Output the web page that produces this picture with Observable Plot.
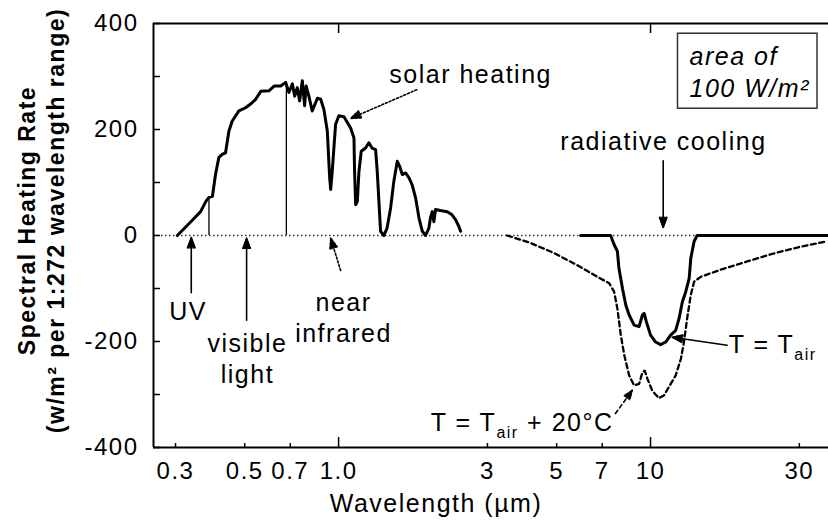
<!DOCTYPE html>
<html><head><meta charset="utf-8">
<script src="https://cdn.jsdelivr.net/npm/d3@7"></script>
<script src="https://cdn.jsdelivr.net/npm/@observablehq/plot@0.6"></script>
<style>
body{margin:0;background:#fff;}
#chart{width:828px;height:520px;}
</style></head><body><div id="chart"></div>
<script>
// ---- data ----
const solarWl = [0.304,0.336,0.361,0.375,0.384,0.394,0.403,0.413,0.423,0.434,0.445,0.456,0.479,0.503,0.522,0.542,0.563,0.598,0.621,0.652,0.676,0.693,0.711,0.723,0.737,0.750,0.765,0.778,0.787,0.803,0.823,0.855,0.876,0.897,0.920,0.936,0.943,0.954,0.978,1.002,1.04,1.093,1.12,1.125,1.134,1.148,1.162,1.182,1.22,1.25,1.28,1.314,1.33,1.35,1.363,1.397,1.43,1.468,1.503,1.542,1.568,1.6,1.64,1.68,1.72,1.765,1.81,1.855,1.9,1.947,1.97,1.996,2.02,2.045,2.12,2.23,2.31,2.37,2.43,2.46];
const solarRate = [0,26,45,64,72,74,115,147,153,156,197,216,235,241,248,257,272,273,282,282,289,270,286,263,279,254,292,245,282,263,235,259,257,238,197,109,87,121,210,226,224,203,184,121,58,64,121,159,165,175,165,162,121,52,8,0,14,52,102,140,131,115,118,109,96,71,33,8,0,14,33,45,26,49,47,45,39,30,17,8];

const boundaryWl = [0.384, 0.68];
const boundaryTop = [72, 289];

const coolAirWl = [5.97,7.45,7.64,7.83,7.92,8.13,8.33,8.54,8.86,9.19,9.42,9.54,9.7,10.0,10.38,10.77,11.18,11.6,12.04,12.34,12.65,12.97,13.3,13.46,13.8,14.1,37.2];
const coolAirRate = [0,0,-17,-30,-62,-100,-131,-150,-169,-172,-150,-147,-163,-188,-201,-206,-201,-188,-179,-157,-125,-106,-81,-43,-11,0,0];

const coolWarmWl = [3.47,4.12,4.9,5.82,6.75,7.37,7.64,7.83,8.03,8.24,8.54,8.86,9.19,9.42,9.58,9.77,10.13,10.63,11.03,11.45,12.04,12.51,12.8,13.1,13.46,13.8,14.48,16.7,20.4,24.8,30.3,36.8];
const coolWarmRate = [0,-14,-33,-56,-78,-90,-106,-138,-188,-226,-264,-283,-280,-258,-255,-270,-293,-307,-302,-286,-264,-233,-201,-157,-112,-87,-78,-65,-49,-34,-21,-11];

const xDomain = [0.255, 37.2];
const yDomain = [-400, 400];
const xTickVals = [0.3, 0.5, 0.7, 1, 3, 5, 7, 10, 30];
const xTickLabels = ["0.3", "0.5", "0.7", "1.0", "3", "5", "7", "10", "30"];
const xMinorTicks = [0.3, 0.5, 0.7, 3, 5, 7, 30];
const xMajorTicks = [1, 10];
const yTickVals = [-400, -300, -200, -100, 0, 100, 200, 300, 400];
const yLabelVals = [-400, -200, 0, 200, 400];

// annotations
const noteText = ["solar heating", "radiative cooling", "UV", "visible\nlight", "near\ninfrared"];
const noteWl = [2.65, 11.0, 0.329, 0.51, 1.037];
const noteRate = [307, 179, -141, -231, -153];

const airNoteText = ["T = T_air"];
const airNoteWl = [17.8];
const airNoteRate = [-206];
const warmNoteText = ["T = T_air + 20°C"];
const warmNoteWl = [7.61];
const warmNoteRate = [-353];

const arrowWl1 = [1.78, 10.98, 0.337, 0.507, 1.015, 17.6, 7.72];
const arrowRate1 = [275, 141, -108, -160, -66, -207, -336];
const arrowWl2 = [1.093, 10.98, 0.337, 0.507, 0.943, 11.74, 8.74];
const arrowRate2 = [221, 15, -4, -5, -5, -192, -292];
const arrowDash = ["2,2", null, null, null, "2,2", null, "4,3"];

const yTitle = ["Spectral Heating Rate", "(w/m² per 1:272 wavelength range)"];
const xTitle = "Wavelength (µm)";
const boxText = "area of\n100 W/m²";

// ---- build ----
const W = 828, H = 520, mL = 153, mR = 0, mT = 23, mB = 73;
const plotW = W - mL - mR, plotH = H - mT - mB;

const solar = solarWl.map((w, i) => ({w, r: solarRate[i]}));
const bounds = boundaryWl.map((w, i) => ({w, top: boundaryTop[i], base: 0}));
const coolAir = coolAirWl.map((w, i) => ({w, r: coolAirRate[i]}));
const coolWarm = coolWarmWl.map((w, i) => ({w, r: coolWarmRate[i]}));
const notes = noteText.map((t, i) => ({t, w: noteWl[i], r: noteRate[i]}));
const airNotes = airNoteText.map((t, i) => ({t, w: airNoteWl[i], r: airNoteRate[i]}));
const warmNotes = warmNoteText.map((t, i) => ({t, w: warmNoteWl[i], r: warmNoteRate[i]}));
const arrows = arrowWl1.map((w, i) => ({x1: w, y1: arrowRate1[i], x2: arrowWl2[i], y2: arrowRate2[i], dash: arrowDash[i]}));
const xLabels = xTickVals.map((v, i) => ({v, t: xTickLabels[i]}));

const arrowMarks = arrows.map(a => Plot.arrow([a], {
  x1: "x1", y1: "y1", x2: "x2", y2: "y2",
  stroke: "black", strokeWidth: 1.6, headLength: 10, headAngle: 40,
  strokeDasharray: a.dash || undefined, ariaDescription: "annot-arrow"
}));

const chart = Plot.plot({
  width: W, height: H,
  marginLeft: mL, marginRight: mR, marginTop: mT, marginBottom: mB,
  x: {type: "log", domain: xDomain, axis: null},
  y: {domain: yDomain, axis: null},
  style: "font-family: 'Liberation Sans', Arial, sans-serif; font-size: 24px; letter-spacing: 1.5px; color: black; background: white; overflow: visible;",
  marks: [
    Plot.ruleY([0], {stroke: "#333", strokeWidth: 1.3, strokeDasharray: "1.5,2.5"}),
    Plot.ruleX(bounds, {x: "w", y1: "base", y2: "top", stroke: "black", strokeWidth: 1.3}),
    Plot.line(solar, {x: "w", y: "r", stroke: "black", strokeWidth: 3, strokeLinejoin: "round"}),
    Plot.line(coolAir, {x: "w", y: "r", stroke: "black", strokeWidth: 3, strokeLinejoin: "round"}),
    Plot.line(coolWarm, {x: "w", y: "r", stroke: "black", strokeWidth: 2.3, strokeDasharray: "5,3.5"}),
    // frame
    Plot.ruleY(yDomain, {stroke: "black", strokeWidth: 2}),
    Plot.ruleX([xDomain[0]], {stroke: "black", strokeWidth: 2}),
    // inward ticks
    Plot.tickY(yTickVals, {y: d => d, insetRight: plotW - 7, stroke: "black", strokeWidth: 1.5}),
    Plot.tickX(xMinorTicks, {x: d => d, insetTop: plotH - 4, stroke: "black", strokeWidth: 1.5}),
    Plot.tickX(xMajorTicks, {x: d => d, insetTop: plotH - 10, stroke: "black", strokeWidth: 1.5}),
    Plot.tickX(xMajorTicks, {x: d => d, insetBottom: plotH - 10, stroke: "black", strokeWidth: 1.5}),
    // tick labels
    Plot.text(xLabels, {x: "v", text: "t", frameAnchor: "bottom", lineAnchor: "top", textAnchor: "middle",
      dy: 14, fontSize: 24, fill: "black"}),
    Plot.text(yLabelVals, {y: d => d, text: d => String(d), frameAnchor: "left", textAnchor: "end",
      lineAnchor: "middle", dx: -15, fontSize: 24, fill: "black"}),
    // axis titles
    Plot.text([yTitle[0]], {text: d => d, frameAnchor: "left", textAnchor: "middle", lineAnchor: "middle",
      rotate: -90, dx: -126, dy: -15, fontWeight: "bold", fontSize: 23, fill: "black"}),
    Plot.text([yTitle[1]], {text: d => d, frameAnchor: "left", textAnchor: "middle", lineAnchor: "middle",
      rotate: -90, dx: -97, dy: -15, fontWeight: "bold", fontSize: 23, fill: "black"}),
    Plot.text([xTitle], {text: d => d, frameAnchor: "bottom", textAnchor: "middle", lineAnchor: "middle",
      dx: -55, dy: 56, fontSize: 25, fill: "black"}),
    // annotations
    Plot.text(notes, {x: "w", y: "r", text: "t", fontSize: 25, lineHeight: 1.22, fill: "black"}),
    Plot.text(airNotes, {x: "w", y: "r", text: "t", textAnchor: "start", fontSize: 25, fill: "black"}),
    Plot.text(warmNotes, {x: "w", y: "r", text: "t", textAnchor: "end", fontSize: 25, fill: "black"}),
    ...arrowMarks,
    Plot.text([boxText], {text: d => d, frameAnchor: "top-right", dx: -139, dy: 19, textAnchor: "start",
      lineAnchor: "top", lineHeight: 1.28, fontSize: 25, fontStyle: "italic", fill: "black",
      ariaDescription: "areabox"})
  ]
});

document.getElementById("chart").appendChild(chart);

// ---- post-processing: subscripts, filled arrowheads, box ----
const NS = "http://www.w3.org/2000/svg";
chart.querySelectorAll("text").forEach(t => {
  if (t.children.length || !t.textContent.includes("_air")) return;
  const [a, b] = t.textContent.split("_air");
  t.textContent = "";
  const s1 = document.createElementNS(NS, "tspan"); s1.textContent = a; t.appendChild(s1);
  const s2 = document.createElementNS(NS, "tspan"); s2.textContent = "air";
  s2.setAttribute("font-size", "16"); s2.setAttribute("dy", "7"); t.appendChild(s2);
  if (b) {
    const s3 = document.createElementNS(NS, "tspan"); s3.textContent = b;
    s3.setAttribute("dy", "-7"); t.appendChild(s3);
  }
});

chart.querySelectorAll('g[aria-description="annot-arrow"] path').forEach(p => {
  const nums = (p.getAttribute("d").match(/-?\d*\.?\d+(?:e-?\d+)?/g) || []).map(Number);
  if (nums.length < 6) return;
  const n = nums.slice(-6);
  const poly = document.createElementNS(NS, "polygon");
  poly.setAttribute("points", `${n[0]},${n[1]} ${n[2]},${n[3]} ${n[4]},${n[5]}`);
  poly.setAttribute("fill", "black");
  poly.setAttribute("stroke", "black");
  poly.setAttribute("stroke-dasharray", "none");
  poly.setAttribute("stroke-width", "1");
  if (p.getAttribute("transform")) poly.setAttribute("transform", p.getAttribute("transform"));
  p.parentNode.appendChild(poly);
});

const bt = chart.querySelector('g[aria-description="areabox"] text');
if (bt) {
  const bb = bt.getBBox();
  const r = document.createElementNS(NS, "rect");
  r.setAttribute("x", bb.x - 12);
  r.setAttribute("y", bb.y - 9);
  r.setAttribute("width", bb.width + 19);
  r.setAttribute("height", bb.height + 15);
  r.setAttribute("fill", "none");
  r.setAttribute("stroke", "#333");
  r.setAttribute("stroke-width", "1.5");
  if (bt.getAttribute("transform")) r.setAttribute("transform", bt.getAttribute("transform"));
  bt.parentNode.insertBefore(r, bt);
}
</script>
</body></html>
